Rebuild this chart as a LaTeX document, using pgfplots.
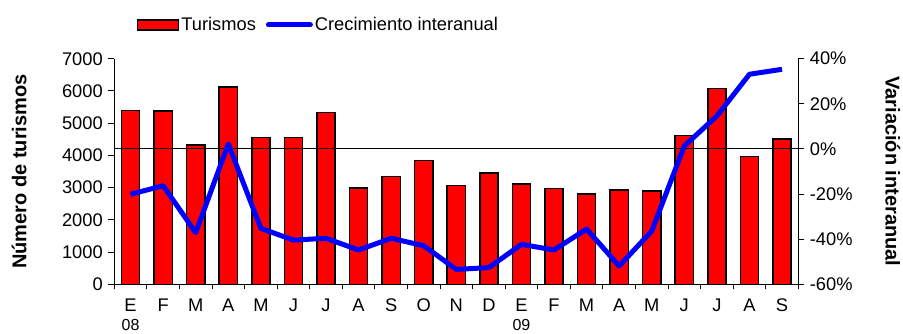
\documentclass[border=0pt]{standalone}
\usepackage{pgfplots}
\pgfplotsset{compat=1.18}
\usepackage{fontspec}
\setmainfont{Liberation Sans}
\newcommand{\tf}{\fontsize{18.3}{21}\selectfont}
\newcommand{\yr}[1]{{\fontsize{16}{21}\selectfont #1}}
\pgfplotstableread{
x bars growth
0 5400 -20.1
1 5380 -16.3
2 4330 -37.1
3 6120 2.2
4 4560 -35.2
5 4560 -40.4
6 5330 -39.6
7 2990 -44.8
8 3340 -39.6
9 3840 -42.9
10 3060 -53.4
11 3460 -52.6
12 3110 -42.3
13 2970 -44.8
14 2800 -35.5
15 2920 -51.9
16 2900 -36.4
17 4610 1.3
18 6070 14.6
19 3960 33.1
20 4510 35.3
}\datatable
\begin{document}
\begin{tikzpicture}
\useasboundingbox (0,0) rectangle (903pt,333pt);
\pgfplotsset{
 common/.style={
  at={(114.3pt,48.7pt)}, anchor=south west,
  scale only axis, width=684pt, height=225.6pt,
  xmin=-0.5, xmax=20.5,
  /pgf/number format/assume math mode=true,
  /pgf/number format/1000 sep={},
  tick label style={font=\tf},
  label style={font=\fontsize{20}{24}\selectfont\bfseries},
  axis line style={line width=1pt},
  every tick/.style={black, line width=1pt},
  tick align=outside,
  major tick length=6pt,
  clip=false,
 }
}
\begin{axis}[common,
  ymin=0, ymax=7000,
  axis x line*=bottom, axis y line*=left,
  ytick={0,1000,...,7000},
  yticklabel style={xshift=-2pt},
  xtick={0,...,20},
  xticklabels={{E\\[-2pt]\yr{08}},F,M,A,M,J,J,A,S,O,N,D,{E\\[-2pt]\yr{09}},F,M,A,M,J,J,A,S},
  xticklabel style={align=center, font=\fontsize{18.3}{21}\selectfont, inner sep=0pt, yshift=-8pt},
  every major x tick/.style={draw=none},
  minor xtick={-0.5,0.5,...,20.5},
  minor tick length=5pt,
  ylabel={Número de turismos},
  ylabel style={at={(axis description cs:-0.139,0.5)}, anchor=center},
  ybar, bar width=18.2pt,
]
\addplot[fill=red, draw=black, line width=1.5pt] table[x=x, y=bars] {\datatable};
\end{axis}
\begin{axis}[common,
  ymin=-60, ymax=40,
  axis y line*=right, axis x line=none,
  ytick={-60,-40,...,40},
  yticklabel={\pgfmathprintnumber{\tick}\%},
  yticklabel style={xshift=2pt},
  ylabel={Variación interanual},
  ylabel style={at={(axis description cs:1.1384,0.5)}, anchor=center, rotate=180},
  legend style={at={(axis description cs:0.0327,1.15)}, anchor=west, draw=none, fill=none, inner sep=0pt, font=\tf, /tikz/every even column/.append style={column sep=8pt}, nodes={inner sep=2pt}},
  legend columns=2, legend cell align=left,
]
\addplot[black, line width=1pt, forget plot] coordinates {(-0.5,0) (20.5,0)};
\addlegendimage{legend image code/.code={\draw[fill=red,draw=black,line width=1.5pt] (0pt,-5pt) rectangle (41pt,5pt);}}
\addlegendentry{Turismos}
\addplot[blue, line width=5pt, line join=round, legend image code/.code={\draw[blue,line width=5pt,line cap=round] (2pt,0pt) -- (44pt,0pt);}] table[x=x, y=growth] {\datatable};
\addlegendentry{Crecimiento interanual}
\end{axis}
\end{tikzpicture}
\end{document}
